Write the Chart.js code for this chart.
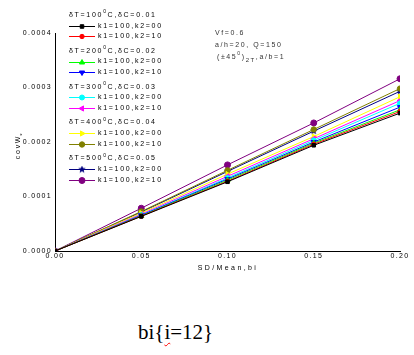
<!DOCTYPE html>
<html><head><meta charset="utf-8">
<script src="https://cdn.jsdelivr.net/npm/chart.js@4.4.1/dist/chart.umd.min.js"></script>
<style>
html,body{margin:0;padding:0;background:#fff;}
#wrap{position:relative;width:414px;height:355px;overflow:hidden;background:#fff;}
#c{position:absolute;left:0;top:0;}
#cap{position:absolute;left:138px;top:322px;font:21px "Liberation Serif","Times New Roman",serif;line-height:21px;color:#000;white-space:nowrap;}
#cap span{text-decoration:underline wavy red;text-decoration-thickness:1px;text-underline-offset:3px;}
</style></head>
<body><div id="wrap"><canvas id="c" width="414" height="290"></canvas><div id="cap">bi{<span>i</span>=12}</div></div>
<script>
// ---- data ----
const xValues = [0, 0.05, 0.10, 0.15, 0.20];
const xTickLabels = ['0.00', '0.05', '0.10', '0.15', '0.20'];
const yTickValues = [0, 0.0001, 0.0002, 0.0003, 0.0004];
const yTickLabels = ['0.0000', '0.0001', '0.0002', '0.0003', '0.0004'];
const groupTemps = ['100', '200', '300', '400', '500'];
const groupDC = ['0.01', '0.02', '0.03', '0.04', '0.05'];
const seriesNames = ['k1=100,k2=00', 'k1=100,k2=10'];
const dT100_k00 = [0, 0.0000635, 0.000127, 0.000194, 0.000253];
const dT100_k10 = [0, 0.0000640, 0.000128, 0.000196, 0.000256];
const dT200_k00 = [0, 0.0000645, 0.000130, 0.000198, 0.000259];
const dT200_k10 = [0, 0.0000655, 0.000132, 0.000200, 0.000264];
const dT300_k00 = [0, 0.0000660, 0.000134, 0.000203, 0.000271];
const dT300_k10 = [0, 0.0000675, 0.000137, 0.000206, 0.000276];
const dT400_k00 = [0, 0.0000695, 0.000141, 0.000210, 0.000283];
const dT400_k10 = [0, 0.0000725, 0.000148, 0.000223, 0.000298];
const dT500_k00 = [0, 0.0000715, 0.000146, 0.000220, 0.000293];
const dT500_k10 = [0, 0.0000785, 0.000158, 0.000235, 0.000316];

// ---- styles ----
function makeStar(color, size){
  const c = document.createElement('canvas'); c.width = size; c.height = size;
  const g = c.getContext('2d'); const cx = size/2, cy = size/2, R = size/2, r = R*0.45;
  g.beginPath();
  for (let i = 0; i < 10; i++){
    const a = -Math.PI/2 + i*Math.PI/5; const rr = i%2 ? r : R;
    g.lineTo(cx + rr*Math.cos(a), cy + rr*Math.sin(a));
  }
  g.closePath(); g.fillStyle = color; g.fill(); return c;
}
const starImg = makeStar('#000080', 8);
const seriesData = [dT100_k00, dT100_k10, dT200_k00, dT200_k10, dT300_k00, dT300_k10, dT400_k00, dT400_k10, dT500_k00, dT500_k10];
const seriesStyle = [
  {color:'#000000', style:'rect', r:2.5, rot:0},
  {color:'#ff0000', style:'circle', r:2.2, rot:0},
  {color:'#00ff00', style:'triangle', r:3, rot:0},
  {color:'#0000ff', style:'triangle', r:3, rot:180},
  {color:'#00ffff', style:'circle', r:2.5, rot:0},
  {color:'#ff00ff', style:'triangle', r:3, rot:270},
  {color:'#ffff00', style:'triangle', r:3, rot:90},
  {color:'#808000', style:'circle', r:2.7, rot:0},
  {color:'#000080', style:starImg, r:4, rot:0},
  {color:'#800080', style:'circle', r:3, rot:0}
];

const datasets = seriesData.map((vals, i) => ({
  label: 'dT' + groupTemps[Math.floor(i/2)] + ' ' + seriesNames[i%2],
  data: xValues.map((x, j) => ({x: x, y: vals[j]})),
  borderColor: seriesStyle[i].color,
  backgroundColor: seriesStyle[i].color,
  pointBackgroundColor: seriesStyle[i].color,
  pointBorderColor: seriesStyle[i].color,
  pointBorderWidth: 1,
  borderWidth: 1,
  pointStyle: seriesStyle[i].style,
  pointRadius: seriesStyle[i].r,
  pointRotation: seriesStyle[i].rot,
  tension: 0,
  fill: false
}));

const FONT = '"Liberation Sans", Arial, sans-serif';

function drawParts(ctx, parts, x, y, spacing){
  let cx = x;
  for (const p of parts){
    ctx.font = (p.size || 7) + 'px ' + FONT;
    ctx.letterSpacing = (p.sp !== undefined ? p.sp : spacing) + 'px';
    ctx.fillText(p.t, cx, y + (p.dy || 0));
    cx += ctx.measureText(p.t).width;
  }
  return cx;
}

function drawMarker(ctx, st, x, y){
  ctx.save();
  ctx.fillStyle = st.color; ctx.strokeStyle = st.color; ctx.lineWidth = 1;
  if (Chart.helpers && Chart.helpers.drawPoint){
    Chart.helpers.drawPoint(ctx, {pointStyle: st.style, radius: st.r, rotation: st.rot, borderWidth: 1}, x, y);
  } else {
    ctx.beginPath(); ctx.arc(x, y, st.r, 0, Math.PI*2); ctx.fill();
  }
  ctx.restore();
}

const overlay = {
  id: 'overlay',
  beforeDraw(chart){ chart.ctx.letterSpacing = '1.3px'; },
  afterDraw(chart){
    const ctx = chart.ctx;
    ctx.save();
    ctx.fillStyle = '#000';
    ctx.textBaseline = 'middle';
    ctx.textAlign = 'left';
    // legend
    const gStart = 15, gStep = 35.8;
    for (let g = 0; g < 5; g++){
      const hy = gStart + g*gStep;
      ctx.fillStyle = '#000';
      drawParts(ctx, [
        {t:'δT=' + groupTemps[g]},
        {t:'0', size:5, dy:-3},
        {t:'C,δC=' + groupDC[g]}
      ], 69, hy, 1.7);
      for (let k = 0; k < 2; k++){
        const i = g*2 + k; const ry = hy + 10.7*(k+1);
        ctx.strokeStyle = seriesStyle[i].color; ctx.lineWidth = 1;
        ctx.beginPath(); ctx.moveTo(69, Math.round(ry)+0.5); ctx.lineTo(95, Math.round(ry)+0.5); ctx.stroke();
        drawMarker(ctx, seriesStyle[i], 82, Math.round(ry)+0.5);
        ctx.fillStyle = '#000';
        drawParts(ctx, [{t: seriesNames[k]}], 98, ry, 1.7);
      }
    }
    // annotation
    ctx.fillStyle = '#333';
    drawParts(ctx, [{t:'Vf=0.6'}], 215, 33.5, 1.6);
    drawParts(ctx, [{t:'a/h=20, Q=150'}], 215, 45, 1.6);
    drawParts(ctx, [
      {t:'(±45'}, {t:'0', size:5, dy:-3}, {t:')'}, {t:'2T', size:6, dy:3}, {t:',a/b=1'}
    ], 217, 57, 1.6);
    // x title
    ctx.fillStyle = '#000';
    ctx.font = '7px ' + FONT; ctx.letterSpacing = '2.4px';
    const xt = 'SD/Mean,bi';
    const w = ctx.measureText(xt).width;
    ctx.fillText(xt, 228 - w/2, 268);
    // y title
    ctx.save();
    ctx.translate(18, 147);
    ctx.rotate(-Math.PI/2);
    ctx.font = '7px ' + FONT; ctx.letterSpacing = '1.7px';
    const yt = 'covW';
    const yw = ctx.measureText(yt).width;
    ctx.fillText(yt, -yw/2, 0);
    ctx.font = '6px ' + FONT;
    ctx.fillText('*', yw/2 - 1, 4);
    ctx.restore();
    ctx.restore();
  }
};

new Chart(document.getElementById('c'), {
  type: 'line',
  data: {datasets: datasets},
  plugins: [overlay],
  options: {
    responsive: false,
    animation: false,
    devicePixelRatio: 1,
    layout: {padding: {left: 0, right: 14, top: 33, bottom: 0}},
    plugins: {legend: {display: false}, tooltip: {enabled: false}},
    font: {family: FONT, size: 7},
    scales: {
      x: {
        type: 'linear', min: 0, max: 0.2,
        afterBuildTicks: s => { s.ticks = xValues.map(v => ({value: v})); },
        afterFit: s => { s.height = 39; },
        grid: {display: false, drawTicks: false},
        border: {display: true, color: '#000', width: 1},
        ticks: {color: '#000', padding: 1, maxRotation: 0, autoSkip: false,
                font: {family: FONT, size: 7},
                callback: (v, i) => xTickLabels[i]}
      },
      y: {
        type: 'linear', min: 0, max: 0.0004,
        afterBuildTicks: s => { s.ticks = yTickValues.map(v => ({value: v})); },
        afterFit: s => { s.width = 55; },
        grid: {display: false, drawTicks: false},
        border: {display: true, color: '#000', width: 1},
        ticks: {color: '#000', padding: 3, autoSkip: false,
                font: {family: FONT, size: 7},
                callback: (v, i) => yTickLabels[i]}
      }
    }
  }
});
</script>
</body></html>
